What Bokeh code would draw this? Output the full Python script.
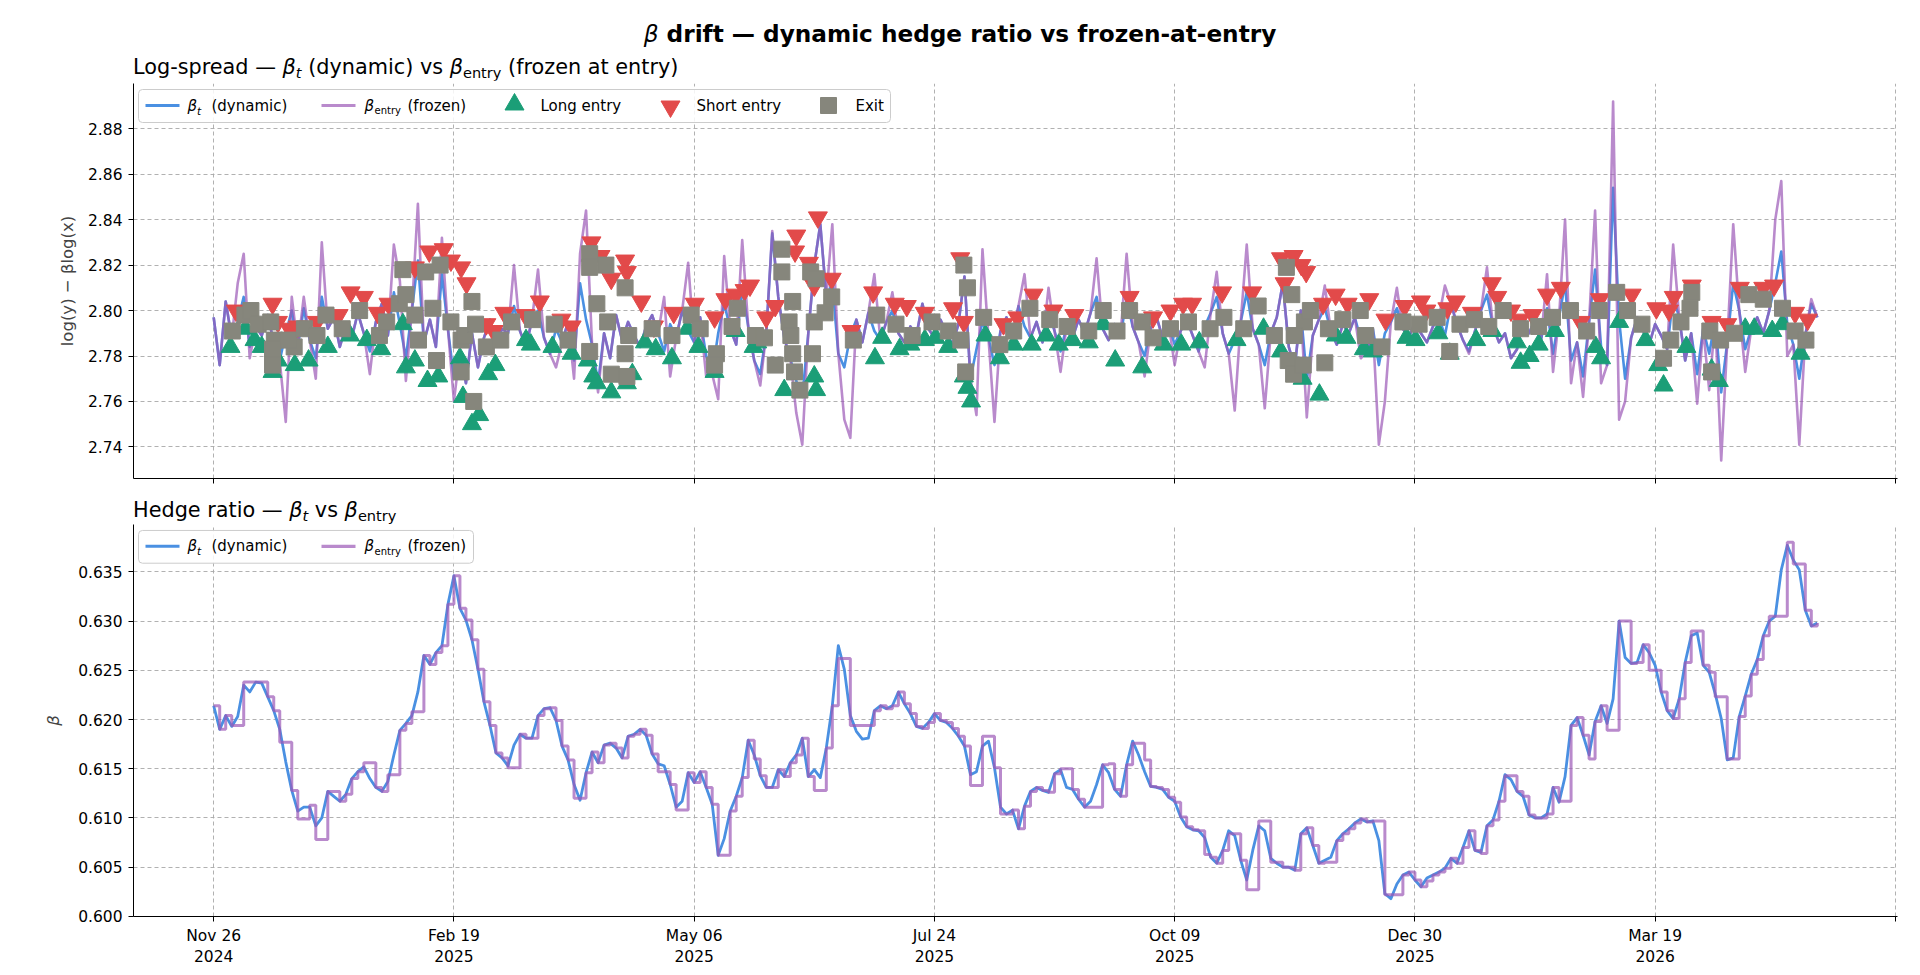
from bokeh.plotting import figure
from bokeh.models import Range1d, FixedTicker, NumeralTickFormatter, Div, Quad
from bokeh.layouts import column
from bokeh.embed import file_html
from bokeh.resources import INLINE
from bokeh.core.properties import value

FONT = "DejaVu Sans"
BLUE = "#4a90e2"
PURPLE = "#9b59b6"
GREEN = "#1b9e77"
RED = "#e24a4a"
GREY = "#86867c"

# ---------------------------------------------------------------- data
# x axis is the bar index; one date label every TICK_STEP bars
TICK_STEP = 40
date_labels = ["Nov 26\n2024", "Feb 19\n2025", "May 06\n2025", "Jul 24\n2025",
               "Oct 09\n2025", "Dec 30\n2025", "Mar 19\n2026", ""]

# rolling hedge ratio beta_t, one value per bar
beta_dynamic = [
    0.6214, 0.6190, 0.6204, 0.6193, 0.6203, 0.6235, 0.6228, 0.6238, 0.6237, 0.6223,
    0.6209, 0.6190, 0.6157, 0.6128, 0.6107, 0.6111, 0.6111, 0.6092, 0.6100, 0.6127,
    0.6122, 0.6117, 0.6124, 0.6140, 0.6147, 0.6152, 0.6140, 0.6131, 0.6127, 0.6137,
    0.6164, 0.6189, 0.6196, 0.6204, 0.6228, 0.6265, 0.6256, 0.6268, 0.6275, 0.6317,
    0.6346, 0.6313, 0.6301, 0.6281, 0.6251, 0.6218, 0.6194, 0.6166, 0.6161, 0.6153,
    0.6174, 0.6185, 0.6181, 0.6181, 0.6204, 0.6211, 0.6212, 0.6199, 0.6173, 0.6159,
    0.6134, 0.6118, 0.6146, 0.6167, 0.6156, 0.6174, 0.6176, 0.6171, 0.6161, 0.6183,
    0.6185, 0.6190, 0.6184, 0.6165, 0.6155, 0.6153, 0.6134, 0.6111, 0.6117, 0.6146,
    0.6136, 0.6147, 0.6131, 0.6114, 0.6062, 0.6079, 0.6107, 0.6122, 0.6141, 0.6179,
    0.6164, 0.6143, 0.6131, 0.6131, 0.6149, 0.6142, 0.6156, 0.6164, 0.6181, 0.6142,
    0.6149, 0.6141, 0.6171, 0.6214, 0.6275, 0.6251, 0.6204, 0.6188, 0.6180, 0.6181,
    0.6209, 0.6214, 0.6211, 0.6214, 0.6228, 0.6216, 0.6206, 0.6193, 0.6191, 0.6197,
    0.6206, 0.6199, 0.6197, 0.6191, 0.6183, 0.6173, 0.6144, 0.6147, 0.6173, 0.6178,
    0.6151, 0.6111, 0.6104, 0.6108, 0.6089, 0.6112, 0.6127, 0.6131, 0.6128, 0.6126,
    0.6145, 0.6149, 0.6131, 0.6129, 0.6119, 0.6111, 0.6117, 0.6134, 0.6154, 0.6146,
    0.6129, 0.6122, 0.6154, 0.6178, 0.6164, 0.6147, 0.6132, 0.6131, 0.6129, 0.6121,
    0.6117, 0.6101, 0.6091, 0.6088, 0.6087, 0.6080, 0.6060, 0.6054, 0.6067, 0.6087,
    0.6082, 0.6057, 0.6037, 0.6067, 0.6092, 0.6087, 0.6059, 0.6054, 0.6050, 0.6050,
    0.6047, 0.6084, 0.6090, 0.6072, 0.6054, 0.6057, 0.6060, 0.6077, 0.6084, 0.6089,
    0.6095, 0.6099, 0.6096, 0.6097, 0.6077, 0.6023, 0.6018, 0.6033, 0.6042, 0.6045,
    0.6037, 0.6030, 0.6039, 0.6042, 0.6045, 0.6049, 0.6059, 0.6054, 0.6070, 0.6087,
    0.6067, 0.6065, 0.6092, 0.6098, 0.6117, 0.6144, 0.6139, 0.6127, 0.6122, 0.6103,
    0.6100, 0.6100, 0.6104, 0.6131, 0.6116, 0.6142, 0.6194, 0.6202, 0.6184, 0.6164,
    0.6198, 0.6214, 0.6196, 0.6221, 0.6300, 0.6263, 0.6257, 0.6258, 0.6276, 0.6268,
    0.6255, 0.6228, 0.6209, 0.6201, 0.6221, 0.6258, 0.6285, 0.6288, 0.6255, 0.6248,
    0.6226, 0.6201, 0.6159, 0.6161, 0.6203, 0.6224, 0.6246, 0.6261, 0.6285, 0.6300,
    0.6305, 0.6352, 0.6377, 0.6362, 0.6352, 0.6311, 0.6295, 0.6298,
]

# periods in a position: beta frozen at the entry value (start bar, end bar, beta)
hold_start = [3, 5, 11, 14, 16, 17, 19, 25, 29, 33, 49, 60, 74, 77, 84, 90, 100, 104, 106,
              126, 128, 131, 141, 146, 149, 151, 153, 155, 160, 165, 169, 172, 174, 176,
              185, 193, 195, 202, 211, 215, 224, 229, 232, 234, 239, 246, 250, 252, 259,
              262, 263]
hold_end = [5, 9, 13, 16, 17, 19, 21, 27, 31, 35, 51, 62, 76, 79, 86, 91, 102, 106, 110,
            128, 130, 133, 143, 148, 150, 152, 155, 156, 161, 166, 171, 174, 176, 178,
            187, 195, 198, 203, 212, 217, 226, 230, 234, 236, 241, 248, 252, 254, 262,
            263, 265]
hold_beta = [0.6194, 0.6238, 0.6177, 0.6099, 0.6113, 0.6078, 0.6127, 0.6156, 0.6144, 0.6208,
             0.6151, 0.6120, 0.6147, 0.6108, 0.6062, 0.6160, 0.6128, 0.6262, 0.6194,
             0.6133, 0.6183, 0.6104, 0.6150, 0.6111, 0.6155, 0.6122, 0.6176, 0.6159,
             0.6116, 0.6063, 0.6084, 0.6027, 0.6097, 0.6055, 0.6055, 0.6097, 0.6022,
             0.6036, 0.6064, 0.6143, 0.6117, 0.6160, 0.6189, 0.6300, 0.6250, 0.6290,
             0.6223, 0.6160, 0.6305, 0.6380, 0.6358]

# log-spread with the dynamic beta
spread_dynamic = [
    2.797, 2.776, 2.804, 2.788, 2.795, 2.806, 2.784, 2.793, 2.789, 2.798,
    2.786, 2.778, 2.790, 2.800, 2.784, 2.801, 2.787, 2.779, 2.806, 2.792,
    2.797, 2.784, 2.793, 2.788, 2.799, 2.790, 2.782, 2.795, 2.803, 2.789,
    2.808, 2.794, 2.779, 2.800, 2.822, 2.786, 2.796, 2.784, 2.816, 2.792,
    2.770, 2.782, 2.768, 2.790, 2.775, 2.788, 2.796, 2.785, 2.792, 2.790,
    2.802, 2.791, 2.784, 2.796, 2.800, 2.788, 2.781, 2.792, 2.786, 2.795,
    2.778, 2.812, 2.796, 2.785, 2.768, 2.790, 2.779, 2.798, 2.787, 2.795,
    2.789, 2.784, 2.793, 2.798, 2.790, 2.782, 2.794, 2.788, 2.800, 2.791,
    2.786, 2.797, 2.780, 2.772, 2.790, 2.803, 2.792, 2.785, 2.810, 2.793,
    2.778, 2.772, 2.790, 2.834, 2.806, 2.788, 2.779, 2.769, 2.762, 2.790,
    2.820, 2.838, 2.806, 2.812, 2.781, 2.775, 2.789, 2.796, 2.786, 2.799,
    2.791, 2.787, 2.795, 2.800, 2.790, 2.786, 2.793, 2.789, 2.803, 2.792,
    2.788, 2.796, 2.790, 2.785, 2.794, 2.815, 2.770, 2.783, 2.795, 2.788,
    2.776, 2.791, 2.797, 2.789, 2.802, 2.793, 2.788, 2.795, 2.786, 2.799,
    2.791, 2.782, 2.793, 2.788, 2.796, 2.790, 2.799, 2.806, 2.792, 2.787,
    2.794, 2.789, 2.805, 2.793, 2.786, 2.780, 2.792, 2.797, 2.788, 2.794,
    2.785, 2.791, 2.796, 2.789, 2.782, 2.793, 2.799, 2.806, 2.790, 2.781,
    2.787, 2.795, 2.808, 2.792, 2.785, 2.776, 2.790, 2.797, 2.812, 2.784,
    2.775, 2.800, 2.770, 2.789, 2.796, 2.801, 2.791, 2.785, 2.794, 2.790,
    2.797, 2.787, 2.782, 2.792, 2.776, 2.790, 2.795, 2.801, 2.792, 2.788,
    2.795, 2.790, 2.786, 2.793, 2.797, 2.789, 2.803, 2.794, 2.787, 2.782,
    2.791, 2.800, 2.807, 2.793, 2.786, 2.790, 2.779, 2.783, 2.795, 2.790,
    2.796, 2.787, 2.801, 2.781, 2.797, 2.812, 2.778, 2.786, 2.771, 2.795,
    2.818, 2.784, 2.776, 2.854, 2.796, 2.770, 2.788, 2.797, 2.791, 2.785,
    2.794, 2.789, 2.783, 2.806, 2.797, 2.778, 2.790, 2.772, 2.792, 2.781,
    2.796, 2.764, 2.786, 2.812, 2.800, 2.783, 2.792, 2.797, 2.790, 2.800,
    2.812, 2.826, 2.794, 2.785, 2.770, 2.789, 2.803, 2.797,
]

# log-spread with beta frozen at entry
spread_frozen = [
    2.797, 2.776, 2.804, 2.788, 2.812, 2.825, 2.779, 2.793, 2.789, 2.798,
    2.786, 2.778, 2.751, 2.806, 2.784, 2.806, 2.787, 2.770, 2.830, 2.792,
    2.797, 2.784, 2.793, 2.788, 2.799, 2.790, 2.772, 2.795, 2.803, 2.789,
    2.829, 2.813, 2.769, 2.800, 2.847, 2.786, 2.796, 2.784, 2.832, 2.792,
    2.760, 2.782, 2.768, 2.790, 2.775, 2.788, 2.796, 2.785, 2.792, 2.790,
    2.820, 2.791, 2.784, 2.796, 2.818, 2.788, 2.781, 2.775, 2.786, 2.795,
    2.770, 2.825, 2.844, 2.785, 2.764, 2.790, 2.779, 2.798, 2.787, 2.795,
    2.789, 2.784, 2.793, 2.798, 2.790, 2.806, 2.771, 2.788, 2.800, 2.821,
    2.786, 2.797, 2.771, 2.772, 2.761, 2.824, 2.792, 2.785, 2.831, 2.793,
    2.778, 2.767, 2.790, 2.835, 2.806, 2.788, 2.779, 2.755, 2.741, 2.790,
    2.820, 2.838, 2.806, 2.838, 2.781, 2.752, 2.744, 2.796, 2.786, 2.799,
    2.816, 2.787, 2.795, 2.808, 2.790, 2.786, 2.793, 2.789, 2.803, 2.792,
    2.788, 2.796, 2.790, 2.785, 2.794, 2.815, 2.770, 2.754, 2.827, 2.788,
    2.751, 2.791, 2.797, 2.789, 2.802, 2.816, 2.788, 2.795, 2.786, 2.810,
    2.791, 2.773, 2.793, 2.788, 2.796, 2.790, 2.799, 2.823, 2.792, 2.787,
    2.794, 2.789, 2.825, 2.793, 2.786, 2.771, 2.792, 2.797, 2.788, 2.794,
    2.776, 2.791, 2.796, 2.789, 2.782, 2.775, 2.799, 2.817, 2.790, 2.781,
    2.756, 2.795, 2.829, 2.792, 2.785, 2.757, 2.790, 2.797, 2.812, 2.784,
    2.775, 2.800, 2.753, 2.789, 2.796, 2.811, 2.791, 2.785, 2.794, 2.790,
    2.797, 2.779, 2.782, 2.792, 2.741, 2.760, 2.795, 2.810, 2.792, 2.788,
    2.795, 2.790, 2.786, 2.793, 2.797, 2.811, 2.803, 2.794, 2.787, 2.781,
    2.791, 2.800, 2.819, 2.793, 2.786, 2.790, 2.779, 2.783, 2.795, 2.790,
    2.796, 2.787, 2.816, 2.773, 2.797, 2.840, 2.768, 2.786, 2.762, 2.795,
    2.844, 2.768, 2.776, 2.892, 2.752, 2.760, 2.788, 2.797, 2.791, 2.785,
    2.794, 2.789, 2.783, 2.829, 2.797, 2.778, 2.790, 2.759, 2.792, 2.765,
    2.796, 2.734, 2.786, 2.838, 2.800, 2.773, 2.792, 2.797, 2.790, 2.800,
    2.840, 2.857, 2.780, 2.785, 2.741, 2.789, 2.805, 2.797,
]

# trade events: bar index and spread level
long_idx = [2.8, 5.3, 6.8, 8.0, 9.8, 10.7, 13.5, 15.8, 19.0, 22.7, 25.5, 27.9, 31.5, 32.0,
            33.5, 35.6, 37.4, 41.0, 41.5, 43.0, 44.2, 45.7, 46.9, 52.0, 52.8, 56.4, 59.6,
            62.3, 63.2, 63.8, 66.2, 68.8, 69.7, 71.8, 73.6, 76.3, 78.9, 80.7, 83.4, 86.9,
            89.9, 90.5, 95.0, 100.0, 100.3, 110.1, 111.3, 114.2, 116.0, 118.4, 120.2,
            122.3, 124.9, 125.5, 126.1, 128.5, 130.9, 133.2, 136.2, 138.6, 140.7, 143.0,
            145.7, 148.1, 150.1, 154.6, 158.2, 161.1, 164.1, 170.3, 174.8, 177.7, 181.3,
            184.1, 186.8, 188.6, 191.5, 193.0, 198.6, 200.1, 203.9, 205.8, 210.2, 212.9,
            217.0, 217.6, 219.1, 220.6, 223.3, 230.1, 231.0, 234.0, 238.4, 240.5, 241.4,
            245.2, 249.4, 250.6, 255.0, 256.5, 259.5, 261.2, 264.2]
long_val = [2.784, 2.792, 2.787, 2.784, 2.773, 2.778, 2.776, 2.778, 2.784, 2.789, 2.787,
            2.783, 2.794, 2.775, 2.778, 2.769, 2.771, 2.779, 2.762, 2.750, 2.754, 2.772,
            2.776, 2.787, 2.785, 2.784, 2.781, 2.778, 2.771, 2.768, 2.764, 2.768, 2.772,
            2.786, 2.783, 2.779, 2.792, 2.784, 2.773, 2.791, 2.784, 2.786, 2.765, 2.771,
            2.765, 2.779, 2.788, 2.783, 2.785, 2.787, 2.788, 2.784, 2.771, 2.766, 2.760,
            2.789, 2.779, 2.785, 2.785, 2.789, 2.785, 2.787, 2.786, 2.794, 2.778, 2.775,
            2.785, 2.785, 2.786, 2.787, 2.792, 2.782, 2.770, 2.763, 2.789, 2.788, 2.783,
            2.782, 2.788, 2.787, 2.790, 2.781, 2.787, 2.791, 2.786, 2.777, 2.780, 2.785,
            2.791, 2.784, 2.779, 2.795, 2.787, 2.776, 2.767, 2.784, 2.774, 2.769, 2.792,
            2.792, 2.791, 2.794, 2.781]

short_idx = [3.7, 9.8, 10.7, 12.6, 14.0, 17.2, 20.8, 22.8, 25.0, 27.3, 29.1, 33.5, 35.9,
             38.3, 39.5, 41.2, 42.1, 45.4, 46.6, 48.4, 51.9, 54.3, 57.9, 59.6, 62.9, 64.4,
             66.2, 68.5, 68.8, 71.2, 73.3, 76.6, 80.1, 83.4, 85.2, 86.9, 88.4, 89.3, 92.0,
             93.5, 96.8, 97.0, 99.1, 100.0, 100.6, 102.9, 106.2, 109.8, 113.4, 115.4,
             118.4, 123.1, 124.3, 124.9, 131.5, 133.8, 136.5, 139.8, 143.3, 152.5, 156.4,
             159.3, 161.4, 162.9, 167.9, 172.9, 177.7, 178.3, 179.8, 181.1, 181.9, 184.7,
             186.8, 188.8, 192.4, 195.1, 198.3, 201.0, 201.9, 205.4, 206.8, 209.5, 212.8,
             213.7, 216.0, 217.5, 219.6, 222.0, 224.3, 227.6, 230.8, 236.1, 240.2, 242.3,
             243.1, 246.1, 249.4, 252.0, 254.1, 258.0, 259.8, 263.3, 265.4]
short_val = [2.800, 2.803, 2.795, 2.792, 2.793, 2.795, 2.798, 2.808, 2.806, 2.799, 2.803,
             2.819, 2.826, 2.827, 2.822, 2.819, 2.812, 2.794, 2.791, 2.799, 2.798, 2.804,
             2.796, 2.793, 2.830, 2.824, 2.814, 2.822, 2.817, 2.804, 2.793, 2.799, 2.803,
             2.797, 2.805, 2.807, 2.809, 2.811, 2.797, 2.802, 2.826, 2.833, 2.821, 2.811,
             2.841, 2.814, 2.791, 2.808, 2.803, 2.802, 2.799, 2.801, 2.823, 2.795, 2.794,
             2.797, 2.807, 2.800, 2.798, 2.806, 2.797, 2.800, 2.803, 2.803, 2.808, 2.808,
             2.823, 2.812, 2.824, 2.820, 2.817, 2.803, 2.807, 2.803, 2.805, 2.796, 2.802,
             2.804, 2.800, 2.801, 2.804, 2.799, 2.812, 2.806, 2.800, 2.796, 2.798, 2.807,
             2.810, 2.795, 2.805, 2.807, 2.801, 2.800, 2.806, 2.811, 2.795, 2.794, 2.810,
             2.810, 2.811, 2.799, 2.796]

exit_idx = [3.1, 5.2, 6.2, 7.4, 9.5, 10.1, 9.8, 9.8, 13.4, 12.5, 15.1, 17.2, 18.7, 21.4,
            24.3, 27.6, 28.8, 30.9, 31.5, 32.0, 33.5, 34.1, 35.3, 37.7, 36.5, 37.1, 39.5,
            41.2, 41.2, 43.0, 43.3, 41.8, 43.6, 45.4, 47.8, 49.6, 53.1, 56.7, 59.0, 62.6,
            62.6, 65.3, 62.6, 63.8, 65.6, 66.2, 68.8, 68.5, 68.5, 69.1, 73.0, 76.3, 79.5,
            81.0, 83.7, 83.4, 86.3, 87.2, 90.2, 91.7, 94.6, 94.6, 96.4, 95.8, 96.1, 93.5,
            96.4, 96.7, 97.6, 99.4, 100.3, 100.0, 99.7, 102.9, 101.8, 106.5, 110.4, 113.6,
            116.3, 119.6, 122.3, 124.4, 124.9, 125.5, 125.2, 128.2, 130.9, 133.2, 135.9,
            139.2, 142.1, 145.7, 148.1, 150.4, 152.5, 154.6, 156.4, 159.3, 162.3, 165.9,
            168.2, 171.5, 173.9, 176.6, 178.6, 179.5, 178.9, 179.8, 181.6, 179.9, 181.4,
            182.6, 185.0, 185.6, 188.0, 190.9, 191.8, 194.5, 198.0, 200.7, 203.7, 205.8,
            207.5, 209.9, 212.3, 214.7, 217.6, 220.6, 222.9, 225.9, 228.6, 230.7, 233.6,
            235.4, 237.8, 241.4, 242.6, 244.3, 246.1, 245.8, 249.1, 249.4, 250.9, 253.2,
            255.6, 258.0, 261.2, 263.3, 265.1]
exit_val = [2.791, 2.798, 2.800, 2.794, 2.795, 2.787, 2.783, 2.776, 2.784, 2.787, 2.792,
            2.789, 2.798, 2.792, 2.800, 2.789, 2.795, 2.803, 2.818, 2.807, 2.798, 2.787,
            2.817, 2.820, 2.801, 2.778, 2.795, 2.787, 2.773, 2.804, 2.760, 2.789, 2.794,
            2.784, 2.787, 2.795, 2.796, 2.794, 2.787, 2.825, 2.819, 2.820, 2.782, 2.803,
            2.795, 2.772, 2.771, 2.781, 2.810, 2.789, 2.792, 2.789, 2.798, 2.792, 2.781,
            2.776, 2.793, 2.801, 2.789, 2.788, 2.827, 2.817, 2.804, 2.795, 2.789, 2.776,
            2.781, 2.773, 2.765, 2.817, 2.814, 2.795, 2.781, 2.806, 2.799, 2.787, 2.798,
            2.794, 2.789, 2.795, 2.791, 2.787, 2.820, 2.810, 2.773, 2.797, 2.785, 2.791,
            2.801, 2.796, 2.793, 2.791, 2.800, 2.791, 2.800, 2.795, 2.788, 2.792, 2.795,
            2.792, 2.797, 2.792, 2.802, 2.789, 2.819, 2.807, 2.778, 2.772, 2.795, 2.789,
            2.776, 2.800, 2.777, 2.792, 2.796, 2.800, 2.789, 2.784, 2.795, 2.794, 2.797,
            2.782, 2.794, 2.796, 2.793, 2.800, 2.792, 2.793, 2.797, 2.800, 2.791, 2.800,
            2.808, 2.800, 2.794, 2.779, 2.787, 2.795, 2.808, 2.801, 2.791, 2.773, 2.787,
            2.790, 2.807, 2.805, 2.801, 2.791, 2.787]

y_ticks_spread = [2.74, 2.76, 2.78, 2.80, 2.82, 2.84, 2.86, 2.88]
y_ticks_beta = [0.600, 0.605, 0.610, 0.615, 0.620, 0.625, 0.630, 0.635]

# ---------------------------------------------------------------- derived series
n_bars = len(beta_dynamic)
bars = list(range(n_bars))
beta_frozen = list(beta_dynamic)
for s, e, b in zip(hold_start, hold_end, hold_beta):
    for i in range(s, e):
        beta_frozen[i] = b

tick_pos = [k * TICK_STEP for k in range(len(date_labels))]


def padded(lo, hi, frac=0.05):
    span = hi - lo
    return lo - frac * span, hi + frac * span


X_RANGE = padded(0, n_bars - 1)
FRAME_W, FRAME_H = 1764, 395
LEFT, RIGHT = 133, 23
TRI, SQ = 19, 16


def base_figure(height, top, bottom, y_lo, y_hi, y_ticks, y_fmt, ylabel, ylabel_style, label_standoff):
    p = figure(width=1920, height=height, output_backend="svg", toolbar_location=None,
               x_range=Range1d(*X_RANGE), y_range=Range1d(y_lo, y_hi),
               min_border_left=LEFT, min_border_right=RIGHT,
               min_border_top=top, min_border_bottom=bottom)
    p.outline_line_color = None
    p.background_fill_color = "white"
    p.border_fill_color = "white"
    for ax in (p.xaxis[0], p.yaxis[0]):
        ax.axis_line_color = "black"
        ax.axis_line_width = 1
        ax.major_tick_line_color = "black"
        ax.major_tick_out = 5
        ax.major_tick_in = 0
        ax.minor_tick_line_color = None
        ax.major_label_text_font = FONT
        ax.major_label_text_font_size = "15.5px"
        ax.major_label_text_color = "black"
    p.xaxis.ticker = FixedTicker(ticks=tick_pos)
    p.xaxis.major_label_standoff = 5
    p.yaxis.ticker = FixedTicker(ticks=y_ticks)
    p.yaxis.formatter = NumeralTickFormatter(format=y_fmt)
    p.yaxis.major_label_standoff = 6
    p.yaxis.axis_label = ylabel
    p.yaxis.axis_label_text_font = FONT
    p.yaxis.axis_label_text_font_size = "16.5px"
    p.yaxis.axis_label_text_font_style = ylabel_style
    p.yaxis.axis_label_standoff = label_standoff
    for g in (p.xgrid[0], p.ygrid[0]):
        g.grid_line_color = "#a8a8a8"
        g.grid_line_dash = "4 3"
        g.grid_line_width = 0.9
    p.extra_x_ranges = {"px": Range1d(0, FRAME_W)}
    p.extra_y_ranges = {"py": Range1d(0, FRAME_H)}
    return p


# legend drawn in frame pixel space so that the beta subscripts can be set
LEG_Y = 373
quad_extra = {"border_radius": 4} if "border_radius" in Quad.properties() else {}


def draw_legend(p, box_right, n_items):
    p.quad(left=[5], right=[box_right], bottom=[356], top=[389], fill_color="white",
           fill_alpha=0.85, line_color="#cccccc", line_width=1,
           x_range_name="px", y_range_name="py", **quad_extra)

    def txt(x, s, size="15px", style="normal", dy=0):
        p.text(x=[x], y=[LEG_Y + dy], text=[s], text_font=value(FONT), text_font_size=size,
               text_font_style=style, text_baseline="middle", text_align="left",
               text_color="black", x_range_name="px", y_range_name="py")

    p.line([12, 46], [LEG_Y, LEG_Y], line_color=BLUE, line_width=3,
           x_range_name="px", y_range_name="py")
    txt(54, "β", style="italic")
    txt(63.5, "t", size="10.5px", style="italic", dy=-5)
    txt(78, "(dynamic)")
    p.line([188, 222], [LEG_Y, LEG_Y], line_color=PURPLE, line_alpha=0.7, line_width=3.2,
           x_range_name="px", y_range_name="py")
    txt(231, "β", style="italic")
    txt(241, "entry", size="10px", dy=-5)
    txt(274, "(frozen)")
    if n_items > 2:
        p.scatter([381], [LEG_Y + 1], marker="triangle", size=TRI, fill_color=GREEN,
                  line_color=GREEN, x_range_name="px", y_range_name="py")
        txt(407, "Long entry")
        p.scatter([537], [LEG_Y - 1], marker="inverted_triangle", size=TRI, fill_color=RED,
                  line_color=RED, x_range_name="px", y_range_name="py")
        txt(563, "Short entry")
        p.scatter([695], [LEG_Y], marker="square", size=SQ, fill_color=GREY,
                  line_color=GREY, x_range_name="px", y_range_name="py")
        txt(722, "Exit")


# ---------------------------------------------------------------- top panel: log-spread
s_lo, s_hi = padded(min(spread_dynamic + spread_frozen), max(spread_dynamic + spread_frozen))
p1 = base_figure(418, 3, 20, s_lo, s_hi, y_ticks_spread, "0.00", "log(y) − βlog(x)", "normal", 8)
p1.xaxis.major_label_overrides = {t: "" for t in tick_pos}
p1.line(bars, spread_dynamic, line_color=BLUE, line_width=2.6, line_join="round")
p1.line(bars, spread_frozen, line_color=PURPLE, line_alpha=0.7, line_width=2.6, line_join="round")
p1.scatter(long_idx, long_val, marker="triangle", size=TRI, fill_color=GREEN, line_color=GREEN)
p1.scatter(short_idx, short_val, marker="inverted_triangle", size=TRI, fill_color=RED, line_color=RED)
p1.scatter(exit_idx, exit_val, marker="square", size=SQ, fill_color=GREY, line_color=GREY)
draw_legend(p1, 757, 5)

# ---------------------------------------------------------------- bottom panel: hedge ratio
b_lo, b_hi = padded(min(beta_dynamic + beta_frozen), max(beta_dynamic + beta_frozen))
p2 = base_figure(445, 0, 50, b_lo, b_hi, y_ticks_beta, "0.000", "β", "italic", 12)
p2.xaxis.major_label_overrides = {t: lab for t, lab in zip(tick_pos, date_labels)}
p2.line(bars, beta_dynamic, line_color=BLUE, line_width=2.8, line_join="round")
p2.step(bars, beta_frozen, mode="after", line_color=PURPLE, line_alpha=0.7, line_width=3.0)
draw_legend(p2, 340, 2)

# ---------------------------------------------------------------- titles
SUB = "font-size:70%;vertical-align:-0.28em;line-height:0"
suptitle = Div(width=1920, height=55, margin=(0, 0, 0, 0), text=(
    f'<div style="width:1920px;text-align:center;font-family:\'{FONT}\';font-size:23.2px;'
    'font-weight:bold;line-height:27px;padding-top:20px;color:#000">'
    '<i style="font-weight:normal">β</i> drift — dynamic hedge ratio vs frozen-at-entry</div>'))
title1 = Div(width=1920, height=25, margin=(0, 0, 0, 0), text=(
    f'<div style="padding-left:{LEFT}px;font-family:\'{FONT}\';font-size:20.8px;'
    'line-height:24px;white-space:nowrap;color:#000">Log-spread — '
    f'<i>β</i><i style="{SUB}">t</i> (dynamic) vs '
    f'<i>β</i><span style="{SUB}">entry</span> (frozen at entry)</div>'))
title2 = Div(width=1920, height=26, margin=(0, 0, 0, 0), text=(
    f'<div style="padding-left:{LEFT}px;font-family:\'{FONT}\';font-size:20.8px;'
    'line-height:24px;white-space:nowrap;color:#000">Hedge ratio — '
    f'<i>β</i><i style="{SUB}">t</i> vs <i>β</i><span style="{SUB}">entry</span></div>'))

layout = column(suptitle, title1, p1, title2, p2, spacing=0)

html = file_html(layout, INLINE, title="beta drift")
html = html.replace("<body>", '<body style="margin:0;background:white">', 1)
open("out.html", "w").write(html)
